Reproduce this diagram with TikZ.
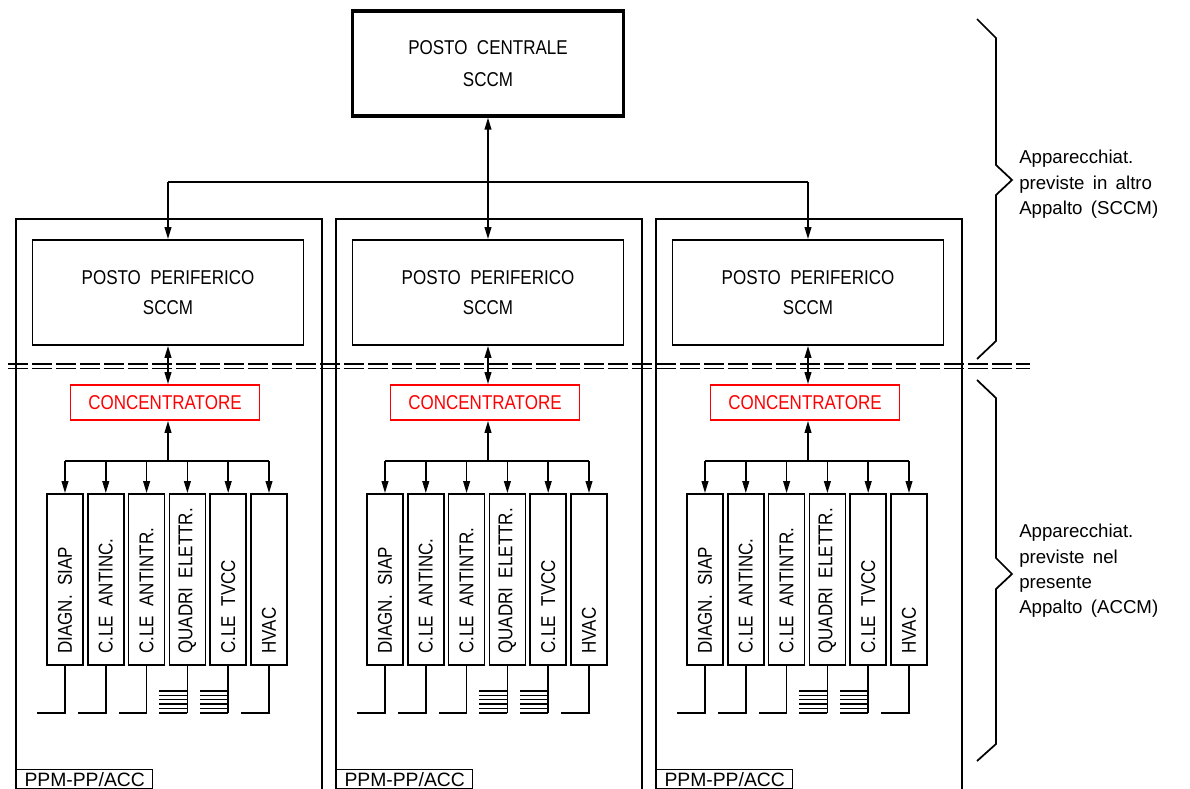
\documentclass[tikz,border=0pt]{standalone}
\usepackage{fontspec}
\newfontfamily\cadfont[FakeStretch=0.85,WordSpace=2]{Liberation Sans}
\newfontfamily\notefont[WordSpace=1.6]{Liberation Sans}
\usetikzlibrary{arrows.meta}
\newdimen\px \px=0.75pt

\tikzset{
  wire/.style={line width=1.3pt},
  tip/.style={-{Triangle[length=9pt,width=5pt]}},
  twotip/.style={{Triangle[length=9pt,width=5pt]}-{Triangle[length=9pt,width=5pt]}},
  box/.style={draw, line width=1.3pt, inner sep=0pt, align=center,
    font=\cadfont\fontsize{15}{23}\selectfont},
  central/.style={box, line width=2.4pt, minimum width=271\px, minimum height=105\px,
    font=\cadfont\fontsize{15}{24}\selectfont},
  periph/.style={box, minimum width=271\px, minimum height=105\px},
  conc/.style={box, draw=red, text=red, minimum width=189\px, minimum height=35\px},
  device/.style={box, minimum width=36\px, minimum height=171\px},
  devtext/.style={rotate=90, anchor=west, inner sep=0pt, font=\cadfont\fontsize{15}{18}\selectfont},
  tag/.style={draw, line width=1pt, inner sep=0pt, minimum width=136\px, minimum height=19\px,
    font=\notefont\fontsize{14.5}{18}\selectfont},
  note/.style={inner sep=0pt, align=left, font=\notefont\fontsize{14}{19}\selectfont},
  mains/.style={line width=0.9pt, dash pattern=on 15pt off 3pt},
}

\begin{document}
\begin{tikzpicture}[x=\px, y=-\px]
\useasboundingbox (0,0) rectangle (1190,789);

% central post and distribution line
\node[central] (pc) at (488,63.5) {POSTO CENTRALE\\SCCM};
\coordinate (hub) at (488,182);

\foreach \dx/\c in {0/a,320/b,640/c}{
  % frame of one peripheral post
  \draw[wire] ({16+\dx},800) |- ({322+\dx},219) -- ({322+\dx},800);
  \node[tag, anchor=north west] (tag\c) at ({16+\dx},769) {PPM-PP/ACC};

  \node[periph] (pp\c) at ({168+\dx},292.5) {POSTO PERIFERICO\\SCCM};
  \node[conc] (cc\c) at ({165+\dx},402.5) {CONCENTRATORE};
  \draw[wire,twotip] (pp\c.south) -- (pp\c.south |- cc\c.north);

  \coordinate (bus\c) at ({168+\dx},461);
  \draw[wire,tip] (bus\c) -- (bus\c |- cc\c.south);

  % field devices
  \foreach \lbl [count=\i from 0] in {DIAGN. SIAP,C.LE ANTINC.,C.LE ANTINTR.,QUADRI ELETTR.,C.LE TVCC,HVAC}{
    \node[device] (d\c\i) at ({65+40.8*\i+\dx},579.5) {};
    \node[devtext] (t\c\i) at ([yshift=12\px]d\c\i.south) {\lbl};
    \draw[wire,tip] (bus\c -| d\c\i.north) -- (d\c\i.north);
  }
  \draw[wire] (bus\c -| d\c0.north) -- (bus\c -| d\c5.north);

  % cable ends
  \foreach \i in {0,1,2,5}
    \draw[wire] (d\c\i.south) -- ++(0,47) -- ++(-28,0);
  \foreach \i in {3,4}{
    \draw[wire] (d\c\i.south) -- ++(0,47);
    \foreach \k in {0,...,5}
      \draw[line width=1pt] (d\c\i.south) ++(0,{25+4.4*\k}) -- ++(-28,0);
  }
}

\draw[wire] (hub -| ppa.north) -- (hub -| ppc.north);
\draw[wire,twotip] (pc.south) -- (ppb.north);
\draw[wire,tip] (hub -| ppa.north) -- (ppa.north);
\draw[wire,tip] (hub -| ppc.north) -- (ppc.north);

% boundary between the two contracts
\draw[mains] (8,364) -- (1030,364);
\draw[mains] (8,368.5) -- (1030,368.5);

% braces with notes
\draw[wire] (977,19) -- (996,38) -- (996,165) -- (1012,180) -- (996,195) -- (996,341) -- (977,359);
\draw[wire] (977,380) -- (996,398) -- (996,558) -- (1012,574) -- (996,589) -- (996,744) -- (977,761);
\node[note, anchor=north west] (n1) at (1019,150) {Apparecchiat.\\previste in altro\\Appalto (SCCM)};
\node[note, anchor=north west] (n2) at (1019,524) {Apparecchiat.\\previste nel\\presente\\Appalto (ACCM)};
\end{tikzpicture}
\end{document}
